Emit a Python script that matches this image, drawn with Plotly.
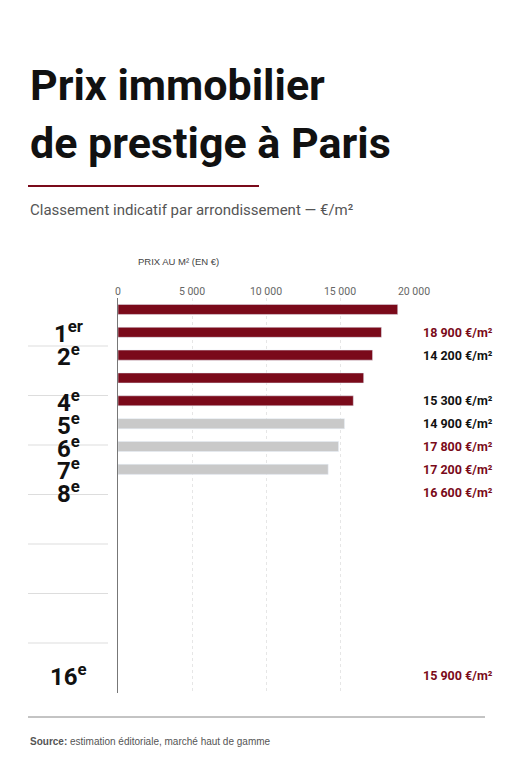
import plotly.graph_objects as go

arrondissements = ["1", "6", "7", "8", "16", "4", "5", "2"]
suffixes = ["er", "e", "e", "e", "e", "e", "e", "e"]
prix = [18900, 17800, 17200, 16600, 15900, 15300, 14900, 14200]
highlight = [True, True, True, True, True, False, False, False]
tick_vals = [0, 5000, 10000, 15000, 20000]
tick_text = ["0", "5 000", "10 000", "15 000", "20 000"]

RED = "#7a0a1a"
GREY = "#c9c9c9"
COND = "Liberation Sans Narrow, Roboto, Arial Narrow, sans-serif"

L, PW = 110, 296  # plot area left edge and width in pixels
top, bottom = 290, 685


def fmt(v):
    return f"{v:,}".replace(",", " ")


def px(x):
    return (x - L) / PW


def py(y):
    return (bottom - y) / (bottom - top)


fig = go.Figure(go.Bar(
    x=prix,
    y=arrondissements,
    orientation="h",
    marker_color=[RED if h else GREY for h in highlight],
    width=0.44,
    hoverinfo="skip",
))

annotations = []
for a, s, v, h in zip(arrondissements, suffixes, prix, highlight):
    annotations.append(dict(
        x=px(60), xref="paper", y=a, yref="y", xanchor="center",
        text=f"<b>{a}<sup>{s}</sup></b>", showarrow=False,
        font=dict(family=COND, size=24, color="#111"),
    ))
    annotations.append(dict(
        x=px(413), xref="paper", y=a, yref="y", xanchor="left",
        text=f"<b>{fmt(v)} €/m²</b>", showarrow=False,
        font=dict(family=COND, size=12.5, color=RED if h else "#111"),
    ))

header = [
    dict(x=20, y=50, text="<b>Prix immobilier</b>", size=43, color="#111", family=COND),
    dict(x=20, y=108, text="<b>de prestige à Paris</b>", size=43, color="#111", family=COND),
    dict(x=20, y=191, text="Classement indicatif par arrondissement — €/m²", size=15,
         color="#555", family=COND),
    dict(x=128, y=246, text="PRIX AU M² (EN €)", size=9.5, color="#444", family="Liberation Sans, Arial"),
    dict(x=20, y=726, text="<b>Source:</b> estimation éditoriale, marché haut de gamme", size=10,
         color="#555", family="Liberation Sans, Arial"),
]
for hd in header:
    annotations.append(dict(
        x=px(hd["x"]), xref="paper", y=py(hd["y"]), yref="paper",
        text=hd["text"], showarrow=False, xanchor="left", yanchor="top",
        font=dict(family=hd["family"], size=hd["size"], color=hd["color"]),
    ))

shapes = [
    dict(type="line", xref="paper", yref="paper", x0=px(20), x1=px(251),
         y0=py(178), y1=py(178), line=dict(color=RED, width=2)),
    dict(type="line", xref="paper", yref="paper", x0=px(20), x1=px(477),
         y0=py(709), y1=py(709), line=dict(color="#888", width=1)),
]
for i in range(len(arrondissements) - 1):
    yy = py(338 + i * 49.5)
    shapes.append(dict(type="line", xref="paper", yref="paper",
                       x0=px(20), x1=px(100), y0=yy, y1=yy,
                       line=dict(color="#ddd", width=1)))

fig.update_layout(
    width=511, height=768,
    margin=dict(l=L, r=511 - L - PW, t=top, b=768 - bottom),
    paper_bgcolor="white", plot_bgcolor="white",
    showlegend=False,
    xaxis=dict(
        range=[0, 20000], side="top", tickvals=tick_vals, ticktext=tick_text,
        tickfont=dict(family=COND, size=10.5, color="#666"),
        showgrid=True, gridcolor="#e6e6e6", griddash="dot", zeroline=False,
        showline=False, ticks="", fixedrange=True,
    ),
    yaxis=dict(
        type="category", autorange="reversed", showticklabels=False, showgrid=False,
        showline=True, linecolor="#777", linewidth=1, ticks="", fixedrange=True,
    ),
    annotations=annotations,
    shapes=shapes,
)

fig.write_html("out.html")
